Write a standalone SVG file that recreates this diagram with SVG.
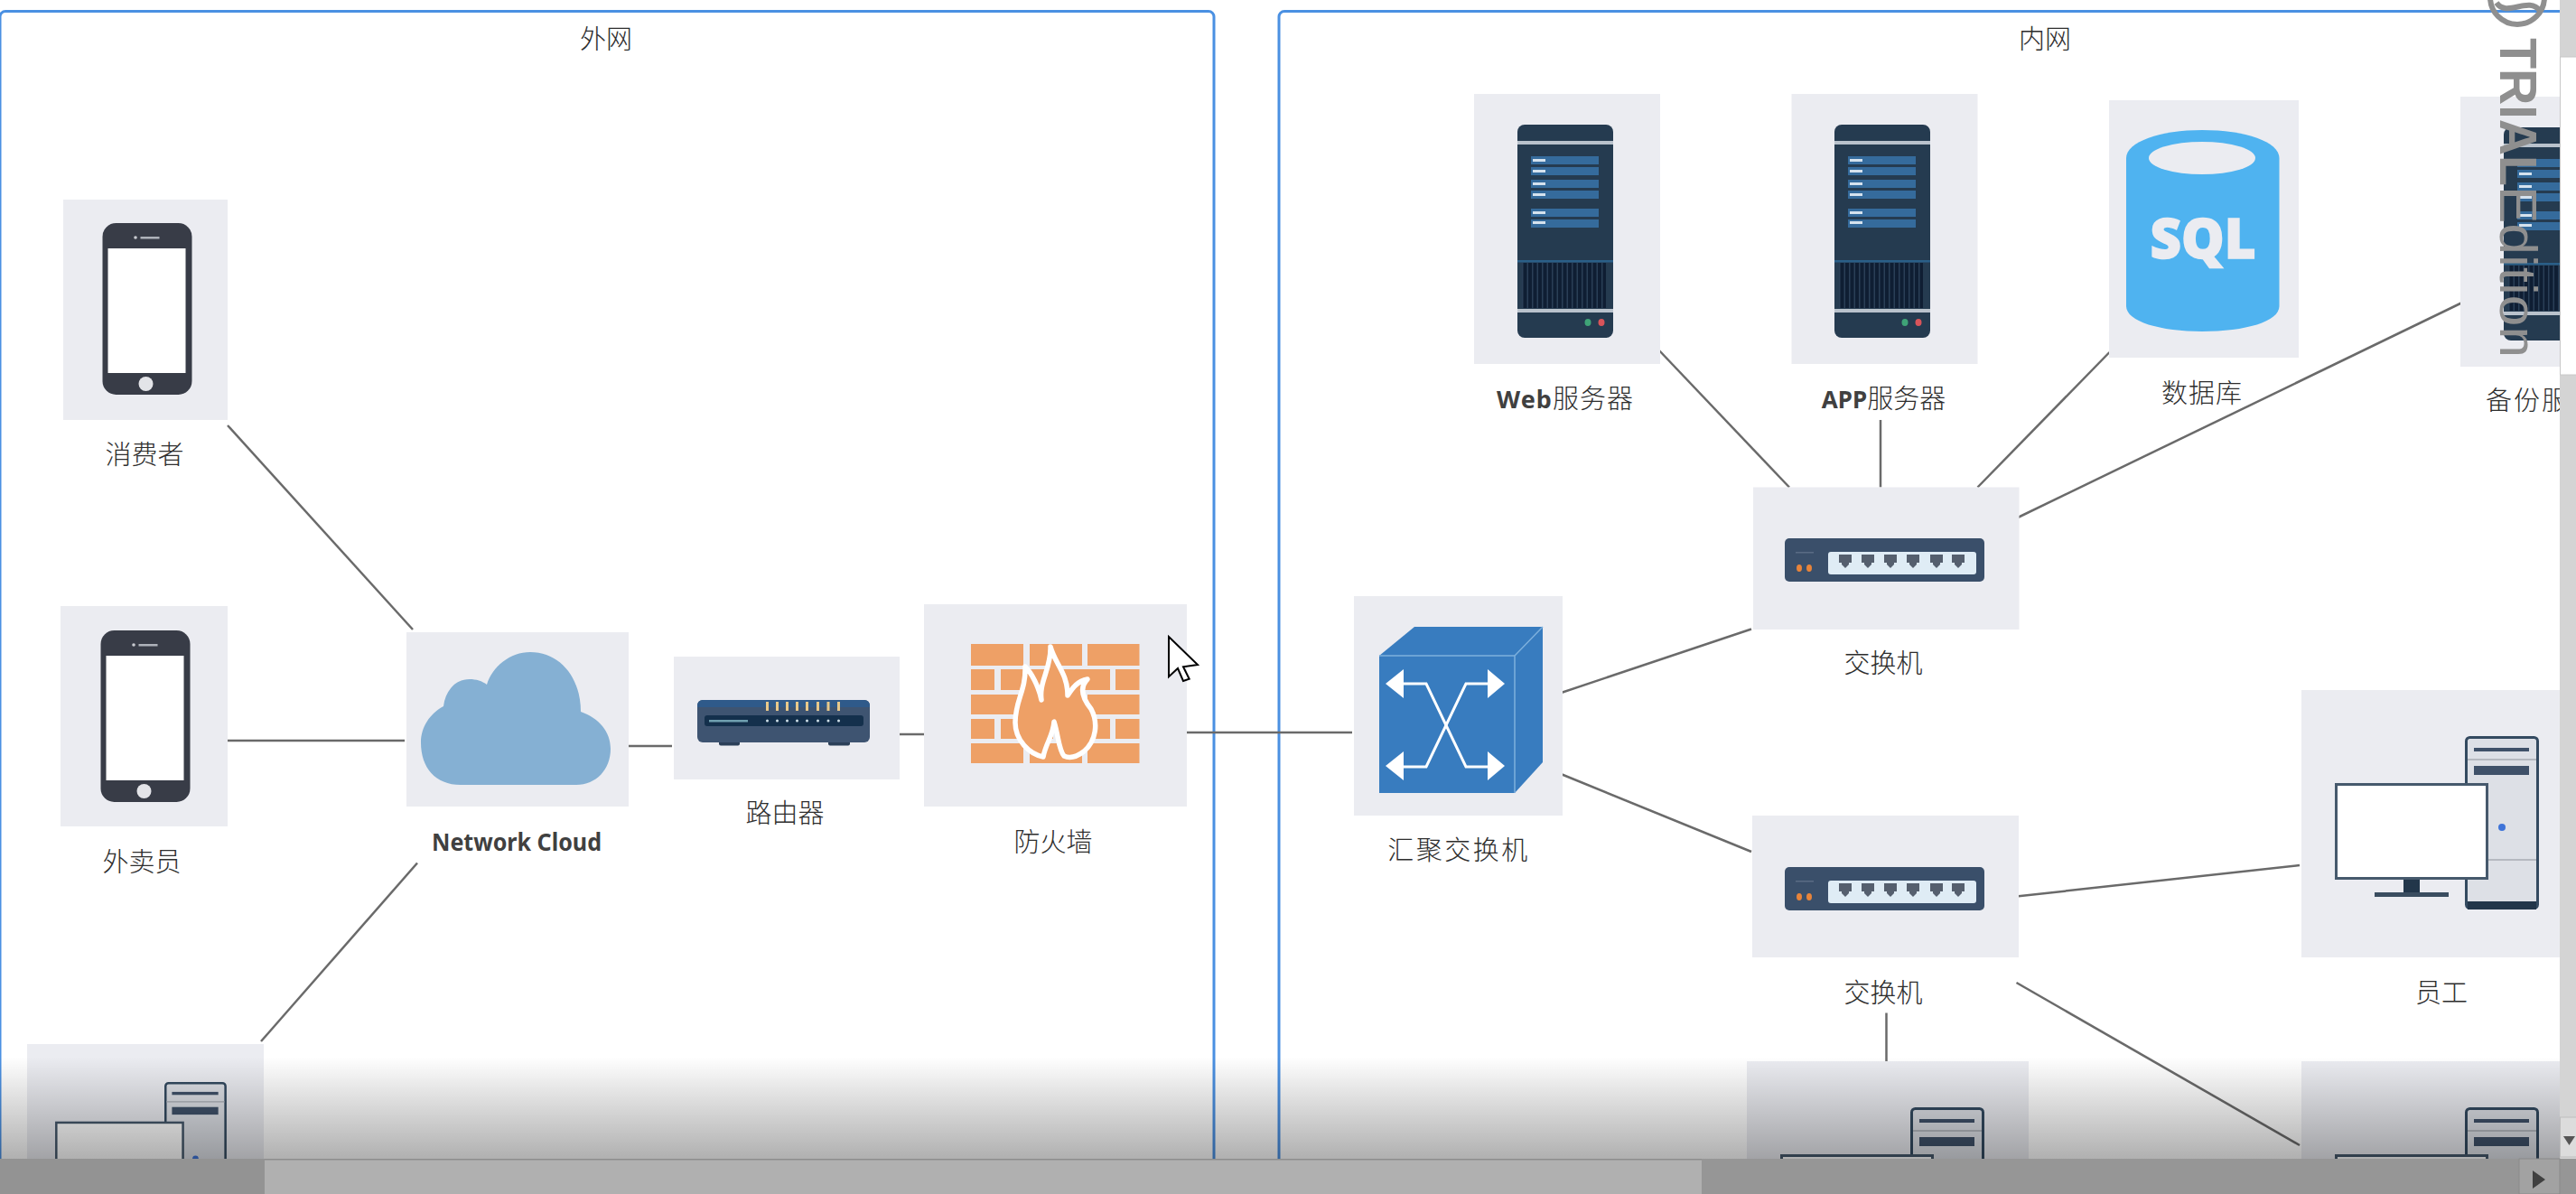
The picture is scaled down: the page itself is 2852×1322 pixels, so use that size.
<svg xmlns="http://www.w3.org/2000/svg" xmlns:xlink="http://www.w3.org/1999/xlink" width="2852" height="1322" viewBox="0 0 2852 1322">
<style>
.tile{fill:#ebecf1}
.frame{fill:#fff;stroke:#4a90e2;stroke-width:3}
.conn{stroke:#6a6a6a;stroke-width:2.5;fill:none}
.lbl{font-family:"Noto Sans CJK SC","Liberation Sans",sans-serif;font-size:29px;font-weight:300;fill:#2e2e2e;text-anchor:middle}
.lat{font-family:"Noto Sans","Liberation Sans",sans-serif;font-weight:700;fill:#404040}
.brick{fill:#eea066}
.panel{fill:#356b9c}
.dash{fill:#d5e2ee}
.port{fill:#555f6e}
</style>
<defs>
<linearGradient id="fade" x1="0" y1="0" x2="0" y2="1">
<stop offset="0" stop-color="#000" stop-opacity="0"/>
<stop offset="1" stop-color="#000" stop-opacity="0.31"/>
</linearGradient>
<g id="phone">
<rect x="0" y="0" width="99" height="190" rx="15" fill="#383c47"/>
<rect x="6" y="28" width="86" height="138" fill="#fff"/>
<ellipse cx="48" cy="178" rx="8" ry="8" fill="#e3e4e8"/>
<rect x="42" y="15" width="21" height="2.5" fill="#aeb2ba"/>
<circle cx="36.500" cy="16" r="1.800" fill="#c8cad0"/>
</g>
<g id="server">
<rect x="1680" y="138" width="106" height="236" rx="8" fill="#253b50"/>
<rect x="1680" y="156" width="106" height="4" fill="#b9c2cc"/>
<rect x="1680" y="342" width="106" height="4" fill="#b9c2cc"/>
<rect x="1680" y="288" width="106" height="2.500" fill="#2a5f88"/>
<rect x="1685" y="291" width="93" height="50" fill="#0f1e33"/>
<line x1="1685" y1="316" x2="1778" y2="316" stroke="#2a3f57" stroke-width="50" stroke-dasharray="1.500 4"/>
<rect class="panel" x="1695" y="173" width="75" height="9"/><rect class="panel" x="1695" y="185" width="75" height="9"/>
<rect class="panel" x="1695" y="199" width="75" height="9"/><rect class="panel" x="1695" y="211" width="75" height="9"/>
<rect class="panel" x="1695" y="231" width="75" height="9"/><rect class="panel" x="1695" y="243" width="75" height="9"/>
<rect class="dash" x="1697" y="176" width="14" height="3"/><rect class="dash" x="1697" y="188" width="14" height="3"/>
<rect class="dash" x="1697" y="202" width="14" height="3"/><rect class="dash" x="1697" y="214" width="14" height="3"/>
<rect class="dash" x="1697" y="234" width="14" height="3"/><rect class="dash" x="1697" y="245" width="14" height="3"/>
<ellipse cx="1758" cy="357" rx="3.500" ry="4" fill="#3fa377"/>
<ellipse cx="1773" cy="357" rx="3.500" ry="4" fill="#d9545a"/>
</g>
<g id="switch">
<rect x="1976" y="596" width="221" height="48" rx="5" fill="#3a4f6a"/>
<rect x="2024" y="611" width="164" height="25" rx="3" fill="#dfecf5"/>
<path id="p" class="port" d="M2036 614h14v9h-3v2l-4 4l-4-4v-2h-3z"/>
<use xlink:href="#p" x="25"/><use xlink:href="#p" x="50"/><use xlink:href="#p" x="75"/><use xlink:href="#p" x="101"/><use xlink:href="#p" x="125"/>
<ellipse cx="1992" cy="629" rx="3" ry="4" fill="#e8843a"/>
<ellipse cx="2003" cy="629" rx="3" ry="4" fill="#e8843a"/>
<rect x="1988" y="611" width="20" height="1.500" fill="#5a6c84"/>
</g>
<g id="pc">
<rect x="2730.500" y="816.500" width="79" height="189" rx="4" fill="#dde0e6" stroke="#334a60" stroke-width="3"/>
<rect x="2732" y="998" width="76" height="9" fill="#22364a"/>
<rect x="2732" y="840" width="76" height="2" fill="#b5b9c0"/>
<rect x="2732" y="951" width="76" height="2" fill="#b5b9c0"/>
<rect x="2739" y="828" width="61" height="4" fill="#3f5169"/>
<rect x="2739" y="848" width="61" height="10" fill="#3f5169"/>
<circle cx="2770" cy="916" r="4" fill="#3f74d8"/>
<rect x="2661" y="973" width="18" height="16" fill="#22364a"/>
<rect x="2629" y="988" width="82" height="5" fill="#3a4d60"/>
<rect x="2586.500" y="868.500" width="167" height="104" fill="#fff" stroke="#46596c" stroke-width="3"/>
</g>
</defs>

<rect width="2852" height="1322" fill="#fff"/>

<g id="frames">
<g id="frame-outer"><rect class="frame" x="0" y="12.500" width="1344" height="1340" rx="6"/><text class="lbl" x="671" y="54">外网</text></g>
<g id="frame-inner"><rect class="frame" x="1416" y="12.500" width="1500" height="1340" rx="6"/><text class="lbl" x="2264" y="54">内网</text></g>
</g>

<g id="connectors">
<line class="conn" x1="252" y1="471" x2="457" y2="697"/>
<line class="conn" x1="252" y1="820" x2="448" y2="820"/>
<line class="conn" x1="289" y1="1153" x2="462" y2="955.500"/>
<line class="conn" x1="693" y1="826" x2="744" y2="826"/>
<line class="conn" x1="995" y1="813" x2="1024" y2="813"/>
<line class="conn" x1="1314" y1="811" x2="1497" y2="811"/>
<line class="conn" x1="1727" y1="767.500" x2="1939" y2="696.500"/>
<line class="conn" x1="1727" y1="856.500" x2="1939" y2="943"/>
<line class="conn" x1="1836" y1="387" x2="1981" y2="539.500"/>
<line class="conn" x1="2082" y1="465" x2="2082" y2="539.500"/>
<line class="conn" x1="2189.500" y1="539.500" x2="2335.500" y2="390"/>
<line class="conn" x1="2233" y1="573.500" x2="2725" y2="335.500"/>
<line class="conn" x1="2232.500" y1="992.500" x2="2546" y2="958"/>
<line class="conn" x1="2232.500" y1="1088" x2="2546" y2="1268"/>
<line class="conn" x1="2088.500" y1="1121.500" x2="2088.500" y2="1175"/>
</g>

<g id="node-consumer">
<rect class="tile" x="70" y="221" width="182" height="244"/>
<use xlink:href="#phone" x="113.500" y="247"/>
<text class="lbl" x="160" y="513.500">消费者</text>
</g>
<g id="node-courier">
<rect class="tile" x="67" y="671" width="185" height="244"/>
<use xlink:href="#phone" x="111.500" y="698"/>
<text class="lbl" x="157" y="964.500">外卖员</text>
</g>
<g id="node-pc-left">
<rect class="tile" x="30" y="1156" width="262" height="160"/>
<g transform="translate(182 1198) scale(.84) translate(-2729 -815)"><use xlink:href="#pc"/></g>
</g>
<g id="node-cloud">
<rect class="tile" x="450" y="700" width="246" height="193"/>
<path fill="#85b0d3" d="M510 869C482 869 466 850 466 822C466 805 476 790 491 782C493 765 504 752 520 752C527 752 534 754 539 758C545 738 565 722 587 722C620 722 643 750 643 788C663 795 676 810 676 829C676 852 660 869 638 869Z"/>
<text class="lbl lat" x="572" y="942" style="font-size:27px" textLength="188" lengthAdjust="spacingAndGlyphs">Network Cloud</text>
</g>
<g id="node-router">
<rect class="tile" x="746" y="727" width="250" height="136"/>
<rect x="796" y="820" width="23" height="5.500" rx="2" fill="#2b3f58"/>
<rect x="917" y="820" width="24" height="5.500" rx="2" fill="#2b3f58"/>
<rect x="772" y="775" width="191" height="47" rx="6" fill="#3e5471"/>
<path d="M772 783v-2a6 6 0 0 1 6-6h179a6 6 0 0 1 6 6v2z" fill="#2f5a8a"/>
<rect x="780" y="792" width="176" height="12" rx="3" fill="#14304c"/>
<rect x="785" y="797" width="43" height="2.500" fill="#6fa0b0"/>
<g fill="#e8c98a">
<rect x="848" y="777" width="3" height="10"/><rect x="859" y="777" width="3" height="10"/><rect x="870" y="777" width="3" height="10"/><rect x="881" y="777" width="3" height="10"/><rect x="892" y="777" width="3" height="10"/><rect x="904" y="777" width="3" height="10"/><rect x="915.500" y="777" width="3" height="10"/><rect x="927" y="777" width="3" height="10"/>
</g>
<g fill="#cfe0e8">
<circle cx="849.500" cy="798" r="1.500"/><circle cx="860.500" cy="798" r="1.500"/><circle cx="871.500" cy="798" r="1.500"/><circle cx="882.500" cy="798" r="1.500"/><circle cx="893.500" cy="798" r="1.500"/><circle cx="905.500" cy="798" r="1.500"/><circle cx="917" cy="798" r="1.500"/><circle cx="928.500" cy="798" r="1.500"/>
</g>
<text class="lbl" x="869" y="911">路由器</text>
</g>
<g id="node-firewall">
<rect class="tile" x="1023" y="669" width="291" height="224"/>
<g class="brick">
<rect x="1075" y="713" width="58" height="24"/><rect x="1140" y="713" width="58" height="24"/><rect x="1204" y="713" width="57.500" height="24"/>
<rect x="1075" y="741" width="26" height="23"/><rect x="1108" y="741" width="58" height="23"/><rect x="1172" y="741" width="57" height="23"/><rect x="1235" y="741" width="26.500" height="23"/>
<rect x="1075" y="769" width="58" height="22"/><rect x="1140" y="769" width="58" height="22"/><rect x="1204" y="769" width="57.500" height="22"/>
<rect x="1075" y="796" width="26" height="22"/><rect x="1108" y="796" width="58" height="22"/><rect x="1172" y="796" width="57" height="22"/><rect x="1235" y="796" width="26.500" height="22"/>
<rect x="1075" y="823" width="58" height="22"/><rect x="1140" y="823" width="58" height="22"/><rect x="1204" y="823" width="57.500" height="22"/>
</g>
<path fill="#eea066" stroke="#fff" stroke-width="5.500" stroke-linejoin="round" d="M1163 716C1168 735 1182 745 1182 770C1186 765 1190 755 1204 752C1194 762 1200 775 1208 785C1216 800 1214 820 1200 832C1192 838 1184 840 1178 837C1172 830 1172 815 1167 799C1166 815 1158 822 1155 838C1140 835 1124 820 1124 800C1124 775 1136 765 1135 738C1142 745 1150 760 1153 775C1150 755 1164 740 1163 716Z"/>
<text class="lbl" x="1166" y="942.500">防火墙</text>
</g>
<g id="node-core-switch">
<rect class="tile" x="1499" y="660" width="231" height="243"/>
<path fill="#387cbf" d="M1527 726L1566 694H1708V844L1677 878H1527Z"/>
<path fill="none" stroke="#7db0dd" stroke-width="1.500" d="M1527 726H1677V878M1677 726L1708 694"/>
<g fill="none" stroke="#fff" stroke-width="3">
<path d="M1552 757H1579L1623 849H1649"/>
<path d="M1649 757H1623L1579 849H1552"/>
</g>
<g fill="#fff">
<path d="M1534 757L1554 741V773Z"/><path d="M1666 757L1647 741V773Z"/>
<path d="M1534 848L1554 832V864Z"/><path d="M1666 848L1647 832V864Z"/>
</g>
<text class="lbl" x="1615" y="951.500" letter-spacing="2.500">汇聚交换机</text>
</g>
<g id="node-web">
<rect class="tile" x="1632" y="104" width="206" height="299"/>
<use xlink:href="#server"/>
<text class="lbl" x="1733" y="452" letter-spacing="1"><tspan class="lat" style="font-size:27px">Web</tspan>服务器</text>
</g>
<g id="node-app">
<rect class="tile" x="1983.500" y="104" width="206" height="299"/>
<use xlink:href="#server" x="351"/>
<text class="lbl" x="2085.500" y="452"><tspan class="lat" style="font-size:26px">APP</tspan>服务器</text>
</g>
<g id="node-db">
<rect class="tile" x="2335" y="111" width="210" height="285"/>
<path fill="#4fb3f0" d="M2354 175C2354 157 2392 144 2438 144C2486 144 2523.500 157 2523.500 175V339C2523.500 356 2486 367 2438 367C2392 367 2354 356 2354 339Z"/>
<ellipse cx="2438" cy="175" rx="59" ry="18" fill="#ebecf1"/>
<text x="2439" y="286" text-anchor="middle" font-family="'Open Sans','Liberation Sans',sans-serif" font-weight="800" font-size="62" fill="#ebecf1" stroke="#ebecf1" stroke-width="1.500" textLength="117" lengthAdjust="spacingAndGlyphs">SQL</text>
<text class="lbl" x="2438" y="446" letter-spacing="1">数据库</text>
</g>
<g id="node-backup">
<rect class="tile" x="2724" y="107" width="128" height="299"/>
<use xlink:href="#server" x="1092" y="3"/>
<text x="2752" y="454" font-family="'Noto Sans CJK SC','Liberation Sans',sans-serif" font-weight="300" font-size="29" fill="#2e2e2e" letter-spacing="2">备份服</text>
</g>
<g id="node-switch-a">
<rect class="tile" x="1941" y="539.500" width="294.500" height="157.500"/>
<use xlink:href="#switch"/>
<text class="lbl" x="2085" y="745">交换机</text>
</g>
<g id="node-switch-b">
<rect class="tile" x="1940" y="903" width="295" height="157"/>
<use xlink:href="#switch" y="364"/>
<text class="lbl" x="2085" y="1110">交换机</text>
</g>
<g id="node-employee">
<rect class="tile" x="2548" y="764" width="304" height="296"/>
<use xlink:href="#pc"/>
<text class="lbl" x="2703" y="1110">员工</text>
</g>
<g id="node-pc-mid">
<rect class="tile" x="1934" y="1175" width="312" height="140"/>
<use xlink:href="#pc" x="-614" y="411"/>
</g>
<g id="node-pc-right">
<rect class="tile" x="2548" y="1175" width="304" height="140"/>
<use xlink:href="#pc" y="411"/>
</g>

<g id="watermark" fill="#8f8f8f">
<circle cx="2787" cy="-3" r="30" fill="none" stroke="#8f8f8f" stroke-width="6"/>
<path d="M2764 3C2775 20 2800 -5 2812 12" fill="none" stroke="#8f8f8f" stroke-width="6"/>
<text transform="translate(2768 42) rotate(90)" font-family="'Liberation Sans',sans-serif" font-weight="700" font-size="57" textLength="164" lengthAdjust="spacingAndGlyphs">TRIAL</text>
<text transform="translate(2768 206) rotate(90)" font-family="'Liberation Sans',sans-serif" font-size="57" textLength="190" lengthAdjust="spacingAndGlyphs">Edition</text>
</g>

<g id="cursor"><path d="M1294 705L1326 736L1310 738.300L1316.700 751.700L1310 754L1304 740L1294 749.300Z" fill="#fff" stroke="#000" stroke-width="2"/></g>

<rect id="fade-overlay" x="0" y="1170" width="2834" height="113" fill="url(#fade)"/>

<g id="scrollbars">
<rect x="2834" y="0" width="18" height="1322" fill="#d4d4d4"/>
<rect x="2834.500" y="63" width="18" height="352" fill="#fff" stroke="#c8c8c8"/>
<rect x="2834.500" y="1237" width="18" height="44" fill="#dcdcdc" stroke="#bdbdbd"/>
<path d="M2838 1258h13l-6.500 10z" fill="#555"/>
<rect x="0" y="1283" width="2852" height="39" fill="#b0b0b0"/>
<rect x="0" y="1283" width="2852" height="1.500" fill="#8d8d8d"/>
<rect x="0" y="1283" width="293" height="39" fill="#939393"/>
<rect x="1884" y="1283" width="968" height="39" fill="#969696"/>
<rect x="2789" y="1283" width="45" height="39" fill="#a2a2a2" stroke="#8a8a8a"/>
<path d="M2804 1296L2818 1306L2804 1316Z" fill="#404040"/>
</g>
</svg>
